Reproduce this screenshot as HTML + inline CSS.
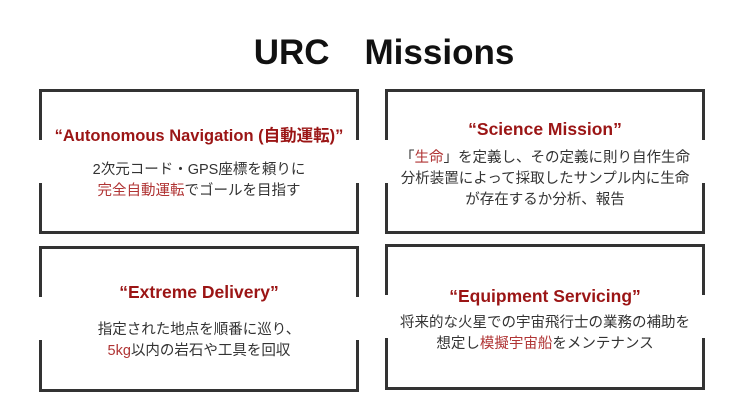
<!DOCTYPE html>
<html><head><meta charset="utf-8"><style>
body{margin:0;width:736px;height:414px;background:#fff;position:relative;overflow:hidden;font-family:"Liberation Sans","Noto Sans CJK JP",sans-serif}
.box{position:absolute;border:3px solid #333;box-sizing:border-box}
.cov{position:absolute;background:#fff}
.t{position:absolute;text-align:center;white-space:nowrap}
.h{color:#9b1515;font-weight:bold;font-size:17.5px}
.b{color:#333;font-size:14.5px;line-height:21px}
.r{color:#b03434}
</style></head><body>
<div class="t" style="left:16px;width:736px;top:24px;font-size:35px;font-weight:bold;color:#111">URC　Missions</div>

<div class="box" style="left:39px;top:89px;width:320px;height:145px"></div>
<div class="cov" style="left:30px;top:140px;width:340px;height:43px"></div>
<div class="box" style="left:385px;top:89px;width:320px;height:145px"></div>
<div class="cov" style="left:376px;top:140px;width:340px;height:43px"></div>
<div class="box" style="left:39px;top:246px;width:320px;height:146px"></div>
<div class="cov" style="left:30px;top:297px;width:340px;height:43px"></div>
<div class="box" style="left:385px;top:244px;width:320px;height:146px"></div>
<div class="cov" style="left:376px;top:295px;width:340px;height:43px"></div>

<div class="t h" style="left:39px;width:320px;top:122px;font-size:16.5px">“Autonomous Navigation (自動運転)”</div>
<div class="t b" style="left:39px;width:320px;top:160px">2次元コード・GPS座標を頼りに<br><span class="r">完全自動運転</span>でゴールを目指す</div>

<div class="t h" style="left:385px;width:320px;top:119px">“Science Mission”</div>
<div class="t b" style="left:385px;width:320px;top:148px">「<span class="r">生命</span>」を定義し、その定義に則り自作生命<br>分析装置によって採取したサンプル内に生命<br>が存在するか分析、報告</div>

<div class="t h" style="left:39px;width:320px;top:282px">“Extreme Delivery”</div>
<div class="t b" style="left:39px;width:320px;top:320px">指定された地点を順番に巡り、<br><span class="r">5kg</span>以内の岩石や工具を回収</div>

<div class="t h" style="left:385px;width:320px;top:286px">“Equipment Servicing”</div>
<div class="t b" style="left:385px;width:320px;top:313px">将来的な火星での宇宙飛行士の業務の補助を<br>想定し<span class="r">模擬宇宙船</span>をメンテナンス</div>
</body></html>
